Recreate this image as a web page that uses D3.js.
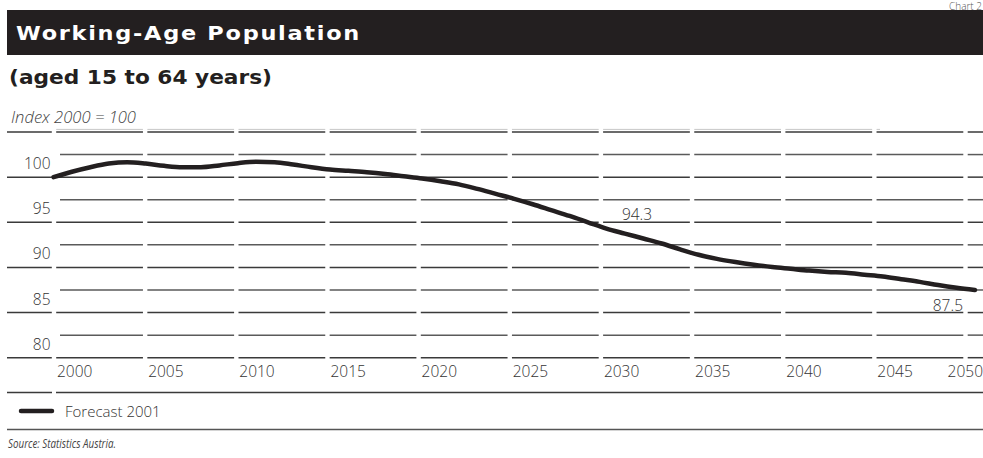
<!DOCTYPE html>
<html>
<head>
<meta charset="utf-8">
<script src="https://cdn.jsdelivr.net/npm/d3@7"></script>
<style>
  html, body { margin: 0; padding: 0; background: #fff; }
  svg { display: block; }
</style>
</head>
<body>
<svg id="chart" width="983" height="458"></svg>
<script>
// Working-age population (15–64), index 2000 = 100, forecast 2001
const years = d3.range(2000, 2051);
const forecast2001 = [
  100.0, 100.6, 101.1, 101.5, 101.65, 101.5, 101.25, 101.1, 101.1, 101.3,
  101.55, 101.7, 101.65, 101.4, 101.1, 100.85, 100.7, 100.55, 100.35, 100.1,
  99.85, 99.55, 99.2, 98.7, 98.15, 97.6, 97.0, 96.35, 95.7, 95.0,
  94.3, 93.75, 93.2, 92.65, 92.0, 91.4, 90.95, 90.6, 90.3, 90.05,
  89.85, 89.65, 89.5, 89.4, 89.2, 89.0, 88.7, 88.4, 88.05, 87.75,
  87.5
];
const tickYears = [2000, 2005, 2010, 2015, 2020, 2025, 2030, 2035, 2040, 2045, 2050];
const valueTicks = [80, 85, 90, 95, 100];
const gridLevels = d3.range(80, 105.01, 2.5);
const seriesName = "Forecast 2001";
const callouts = [
  { year: 2030, text: "94.3" },
  { year: 2050, text: "87.5" }
];

const W = 983, H = 458;
const svg = d3.select("#chart");
const ink = "#231f20";
const bodyFont = "'Open Sans', 'DejaVu Sans', sans-serif";
const headFont = "'DejaVu Sans', 'Open Sans', sans-serif";

// scales
const x = d3.scaleLinear().domain([2000, 2050]).range([53.5, 975]);
const xTick = d3.scaleLinear().domain([2000, 2050]).range([54, 965.5]);
const y = d3.scaleLinear().domain([80, 105]).range([357.7, 132]);

// header
svg.append("text")
  .attr("x", W - 1).attr("y", 9.5)
  .attr("text-anchor", "end")
  .attr("font-family", bodyFont).attr("font-size", 10).attr("font-weight", 300)
  .attr("fill", "#555")
  .text("Chart 2");

svg.append("rect")
  .attr("x", 7).attr("y", 10).attr("width", W - 7).attr("height", 45)
  .attr("fill", ink);

svg.append("text")
  .attr("x", 16).attr("y", 39.5)
  .attr("font-family", headFont).attr("font-size", 19.5).attr("font-weight", 700)
  .attr("letter-spacing", 1.5)
  .attr("fill", "#fff")
  .attr("textLength", 345).attr("lengthAdjust", "spacingAndGlyphs")
  .text("Working-Age Population");

svg.append("text")
  .attr("x", 9).attr("y", 84)
  .attr("font-family", headFont).attr("font-size", 19.5).attr("font-weight", 700)
  .attr("fill", ink)
  .attr("textLength", 263).attr("lengthAdjust", "spacingAndGlyphs")
  .text("(aged 15 to 64 years)");

svg.append("text")
  .attr("x", 11).attr("y", 123)
  .attr("font-family", bodyFont).attr("font-size", 15.5).attr("font-style", "italic").attr("font-weight", 300)
  .attr("fill", "#444")
  .attr("textLength", 125).attr("lengthAdjust", "spacingAndGlyphs")
  .text("Index 2000 = 100");

// broken horizontal grid: gaps at each tick year
const gapHalf = 2.2;
const gaps = tickYears.map(t => xTick(t));
function segmentsFrom(startX) {
  const segs = [];
  let s = startX;
  gaps.forEach(g => {
    if (g - gapHalf > s) segs.push([s, g - gapHalf]);
    s = Math.max(s, g + gapHalf);
  });
  if (s < W) segs.push([s, W]);
  return segs;
}

// faint rule just above the top grid line
const faint = svg.append("g");
segmentsFrom(56).filter(s => s[0] < 880).forEach(s => {
  faint.append("line")
    .attr("x1", s[0]).attr("x2", Math.min(s[1], 880))
    .attr("y1", y(105) - 2.6).attr("y2", y(105) - 2.6)
    .attr("stroke", "#c8c8c8").attr("stroke-width", 1);
});

const grid = svg.append("g");
gridLevels.forEach(v => {
  const major = Math.abs(v % 5) < 1e-6;
  segmentsFrom(major ? 7 : 60).forEach(s => {
    grid.append("line")
      .attr("x1", s[0]).attr("x2", s[1])
      .attr("y1", y(v)).attr("y2", y(v))
      .attr("stroke", major ? "#3a3a3a" : "#5a5a5a")
      .attr("stroke-width", 1.5);
  });
});

// y labels
svg.append("g").selectAll("text")
  .data(valueTicks).join("text")
  .attr("x", 50.5).attr("y", d => y(d) - 8)
  .attr("text-anchor", "end")
  .attr("font-family", bodyFont).attr("font-size", 15.5).attr("font-weight", 300)
  .attr("fill", "#333")
  .text(d => d);

// x labels
svg.append("g").selectAll("text")
  .data(tickYears).join("text")
  .attr("x", (d, i) => i === tickYears.length - 1 ? W : xTick(d) + 3)
  .attr("y", 377)
  .attr("text-anchor", (d, i) => i === tickYears.length - 1 ? "end" : "start")
  .attr("font-family", bodyFont).attr("font-size", 15.5).attr("font-weight", 300)
  .attr("fill", "#333")
  .text(d => d);

// rule under the x labels and legend rule
const rules = svg.append("g").attr("stroke", "#3a3a3a").attr("stroke-width", 1.5);
rules.append("line").attr("x1", 7).attr("x2", 52).attr("y1", 392.5).attr("y2", 392.5);
rules.append("line").attr("x1", 56).attr("x2", W).attr("y1", 392.5).attr("y2", 392.5);
rules.append("line").attr("x1", 7).attr("x2", W).attr("y1", 429.5).attr("y2", 429.5)
  .attr("stroke", "#555");

// series line
const data = years.map((yr, i) => ({ year: yr, value: forecast2001[i] }));
const line = d3.line()
  .x(d => x(d.year))
  .y(d => y(d.value))
  .curve(d3.curveMonotoneX);

svg.append("path")
  .datum(data)
  .attr("d", line)
  .attr("fill", "none")
  .attr("stroke", ink)
  .attr("stroke-width", 4.5)
  .attr("stroke-linecap", "round")
  .attr("stroke-linejoin", "round");

// value callouts
const valueAt = yr => data.find(d => d.year === yr).value;
svg.append("text")
  .attr("x", x(callouts[0].year) + 15.5)
  .attr("y", y(valueAt(callouts[0].year)) - 8.5)
  .attr("font-family", bodyFont).attr("font-size", 15.5).attr("font-weight", 300)
  .attr("fill", "#333")
  .text(callouts[0].text);
svg.append("text")
  .attr("x", x(callouts[1].year) - 12)
  .attr("y", y(valueAt(callouts[1].year)) + 21)
  .attr("text-anchor", "end")
  .attr("font-family", bodyFont).attr("font-size", 15.5).attr("font-weight", 300)
  .attr("fill", "#333")
  .text(callouts[1].text);

// legend
svg.append("line")
  .attr("x1", 21).attr("x2", 52).attr("y1", 411).attr("y2", 411)
  .attr("stroke", ink).attr("stroke-width", 4.5).attr("stroke-linecap", "round");
svg.append("text")
  .attr("x", 65).attr("y", 416.5)
  .attr("font-family", bodyFont).attr("font-size", 15).attr("font-weight", 300)
  .attr("fill", "#333")
  .text(seriesName);

// source
svg.append("text")
  .attr("x", 8).attr("y", 447.5)
  .attr("font-family", bodyFont).attr("font-size", 13.5).attr("font-style", "italic").attr("font-weight", 400)
  .attr("fill", "#444")
  .attr("textLength", 108).attr("lengthAdjust", "spacingAndGlyphs")
  .text("Source: Statistics Austria.");
</script>
</body>
</html>
